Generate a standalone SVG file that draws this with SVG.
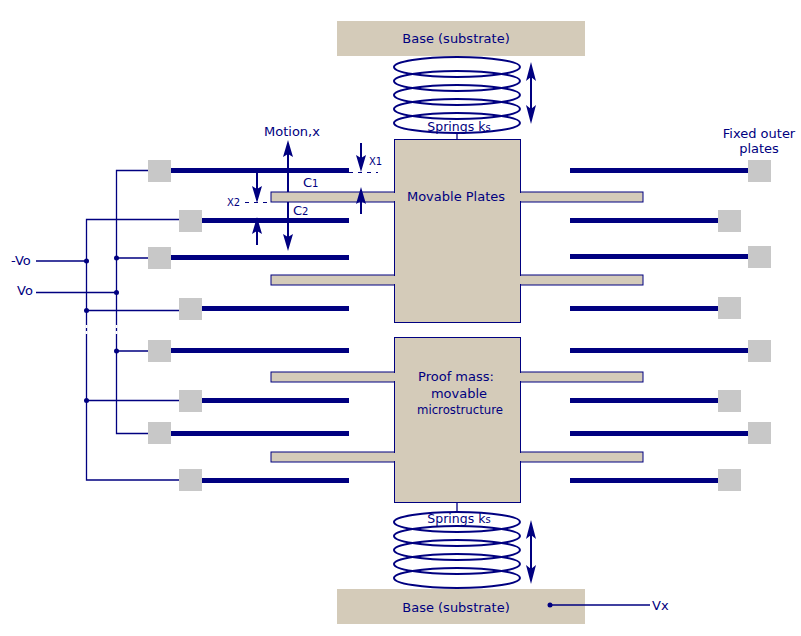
<svg xmlns="http://www.w3.org/2000/svg" width="801" height="636" viewBox="0 0 801 636">
<style>
text{font-family:"DejaVu Sans",Verdana,sans-serif;fill:#000080;font-size:13px}
.m{text-anchor:middle}
.s{font-size:10px}
.k{font-size:12.500px}
.body{fill:#d4cbb9}
.out{fill:#d4cbb9;stroke:#000080;stroke-width:1}
.pad{fill:#c8c8c8;stroke:none}
.plate{stroke:#000080;stroke-width:5;fill:none}
.w{stroke:#000080;stroke-width:1.300;fill:none}
.a{stroke:#000080;stroke-width:2;fill:none}
.d{stroke:#000080;stroke-width:1;stroke-dasharray:4 5;fill:none}
.coil{fill:none;stroke:#000080;stroke-width:2}
.dot{fill:#000080}
</style>
<g id="base-top"><rect class="body" x="337" y="21" width="248" height="35"/><text class="m" x="456" y="43">Base (substrate)</text></g>
<g id="base-bottom"><rect class="body" x="337" y="589" width="248" height="35"/><text class="m" x="456" y="612">Base (substrate)</text></g>
<g id="arms-upper">
<rect class="out" x="271" y="192" width="124" height="10"/><rect class="out" x="271" y="275" width="124" height="10"/>
<rect class="out" x="520" y="192" width="123" height="10"/><rect class="out" x="520" y="275" width="123" height="10"/>
</g>
<g id="arms-lower">
<rect class="out" x="271" y="372" width="124" height="10"/><rect class="out" x="271" y="452" width="124" height="10"/>
<rect class="out" x="520" y="372" width="123" height="10"/><rect class="out" x="520" y="452" width="123" height="10"/>
</g>
<g id="movable-plates"><rect class="out" x="394.500" y="139.500" width="126" height="183"/><text class="m" x="456" y="201">Movable Plates</text></g>
<g id="proof-mass"><rect class="out" x="394.500" y="337.500" width="126" height="165"/><text class="m" x="456" y="381">Proof mass:</text><text class="m" x="459" y="398">movable</text><text class="m" x="460" y="414" textLength="86" lengthAdjust="spacingAndGlyphs">microstructure</text></g>
<g id="arm-joins" fill="#d4cbb9">
<rect x="393" y="193" width="4" height="8"/><rect x="393" y="276" width="4" height="8"/><rect x="518" y="193" width="4" height="8"/><rect x="518" y="276" width="4" height="8"/>
<rect x="393" y="373" width="4" height="8"/><rect x="393" y="453" width="4" height="8"/><rect x="518" y="373" width="4" height="8"/><rect x="518" y="453" width="4" height="8"/>
</g>
<g id="springs-top">
<ellipse class="coil" cx="457" cy="67" rx="63" ry="10"/><ellipse class="coil" cx="457" cy="81" rx="63" ry="10"/><ellipse class="coil" cx="457" cy="95" rx="63" ry="10"/><ellipse class="coil" cx="457" cy="109" rx="63" ry="10"/><ellipse class="coil" cx="457" cy="123" rx="63" ry="10"/>
<text class="m k" x="459" y="131">Springs k<tspan class="s">s</tspan></text>
</g>
<g id="springs-bottom">
<ellipse class="coil" cx="457" cy="522" rx="63" ry="10"/><ellipse class="coil" cx="457" cy="536" rx="63" ry="10"/><ellipse class="coil" cx="457" cy="550" rx="63" ry="10"/><ellipse class="coil" cx="457" cy="564" rx="63" ry="10"/><ellipse class="coil" cx="457" cy="578" rx="63" ry="10"/>
<text class="m k" x="459" y="523">Springs k<tspan class="s">s</tspan></text>
</g>
<g id="pads-left">
<rect class="pad" x="148" y="160" width="23" height="22"/><rect class="pad" x="179" y="210" width="23" height="22"/><rect class="pad" x="148" y="247" width="23" height="22"/><rect class="pad" x="179" y="298" width="23" height="22"/><rect class="pad" x="148" y="340" width="23" height="22"/><rect class="pad" x="179" y="390" width="23" height="22"/><rect class="pad" x="148" y="422" width="23" height="22"/><rect class="pad" x="179" y="469" width="23" height="22"/>
</g>
<g id="pads-right">
<rect class="pad" x="748" y="160" width="23" height="22"/><rect class="pad" x="718" y="210" width="23" height="22"/><rect class="pad" x="748" y="246" width="23" height="22"/><rect class="pad" x="718" y="297" width="23" height="22"/><rect class="pad" x="748" y="340" width="23" height="22"/><rect class="pad" x="718" y="390" width="23" height="22"/><rect class="pad" x="748" y="422" width="23" height="22"/><rect class="pad" x="718" y="469" width="23" height="22"/>
</g>
<g id="labels">
<text x="264" y="136">Motion,x</text>
<text x="303" y="187">C<tspan class="s">1</tspan></text>
<text x="293" y="215">C<tspan class="s">2</tspan></text>
<text x="369" y="165" class="s">X1</text>
<text x="227" y="206" class="s">X2</text>
<text class="m" x="759" y="138">Fixed outer</text>
<text class="m" x="759" y="153">plates</text>
<text x="11" y="265">-Vo</text>
<text x="17" y="295">Vo</text>
<text x="652" y="610">Vx</text>
</g>
<g id="connectors">
<path class="plate" d="M171 170.500H349M202 220.500H349M171 257.500H349M202 308.500H349M171 350.500H349M202 400.500H349M171 433.500H349M202 480.500H349"/>
<path class="plate" d="M570 170.500H748M570 220.500H718M570 256.500H748M570 308.500H718M570 350.500H748M570 400.500H718M570 433.500H748M570 480.500H718"/>
<path class="w" d="M148 170.500H116.500V433.500H148M179 219.500H86.500V480H179M116.500 258H148M36 261H86.500M36 292.500H116.500M86.500 310.500H179M116.500 351H148M86.500 400.500H179"/>
<path d="M86.500 325v12M116.500 325v12" stroke="#fff" stroke-width="2" stroke-dasharray="3 3" fill="none"/>
<circle class="dot" cx="86.500" cy="261" r="2.500"/><circle class="dot" cx="116.500" cy="258" r="2.500"/><circle class="dot" cx="116.500" cy="292.500" r="2.500"/><circle class="dot" cx="86.500" cy="310.500" r="2.500"/><circle class="dot" cx="116.500" cy="351" r="2.500"/><circle class="dot" cx="86.500" cy="400.500" r="2.500"/>
<path class="w" d="M457 133V139M457 503V512"/>
<path class="a" d="M288 192V145M288 202V248M531 66V120M531 525V580M361 143V168M361 214V190M257 172V200M257 245V220"/>
<path class="d" d="M349 172.500H378M245 202.500H271"/>
<path id="heads" fill="#000080" d="M288 140l5 17-5-3-5 3zM288 251l5-17-5 3-5-3zM531 62l5 19-5-4-5 4zM531 584l5-19-5 4-5-4zM361 172l5-17-5 3-5-3zM361 187l5 17-5-3-5 3zM257 203l5-17-5 3-5-3zM257 217l5 17-5-3-5 3zM531 124l5-19-5 4-5-4zM531 520l5 19-5-4-5 4z"/>
<path class="w" d="M550 605H650"/><circle class="dot" cx="550" cy="605" r="2.500"/>
</g>
</svg>
